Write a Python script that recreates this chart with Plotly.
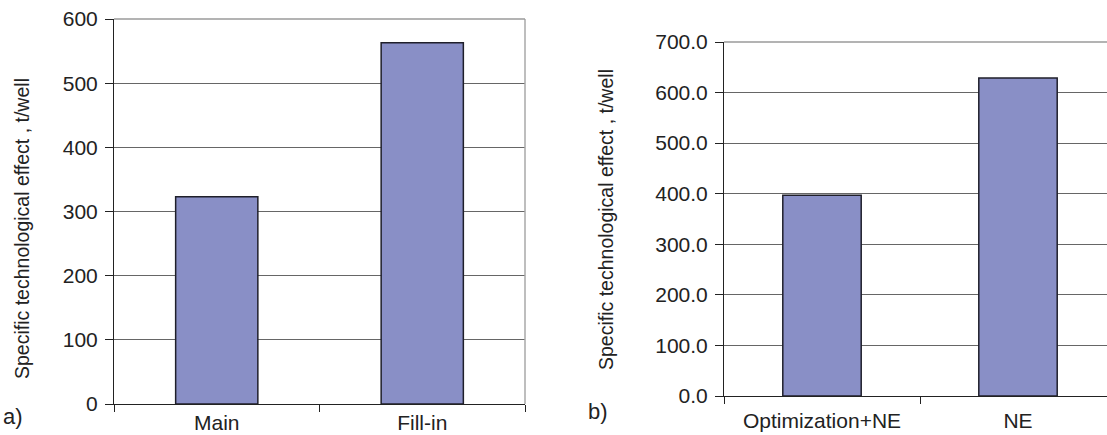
import plotly.graph_objects as go

# Chart a): well category
cats_a = ["Main", "Fill-in"]
vals_a = [323, 563]

# Chart b): treatment type
cats_b = ["Optimization+NE", "NE"]
vals_b = [397, 629]

y_title = "Specific technological effect , t/well"

W, H = 1107, 435
FONT = "Liberation Sans, Arial, sans-serif"
INK = "#222222"
BAR_FILL = "#898fc6"
BAR_EDGE = "#1f1f2a"
GRID = "#666666"


def px(x):
    return x / W


def py(y):
    return 1 - y / H


fig = go.Figure()

fig.add_trace(go.Bar(
    x=cats_a, y=vals_a, xaxis="x", yaxis="y", width=0.4,
    marker=dict(color=BAR_FILL, line=dict(color=BAR_EDGE, width=1.5)),
    showlegend=False,
))
fig.add_trace(go.Bar(
    x=cats_b, y=vals_b, xaxis="x2", yaxis="y2", width=0.4,
    marker=dict(color=BAR_FILL, line=dict(color=BAR_EDGE, width=1.5)),
    showlegend=False,
))

tick_font = dict(family=FONT, size=21, color=INK)
cat_font = dict(family=FONT, size=21, color=INK)

common_x = dict(
    type="category", showline=True, linecolor=INK, linewidth=1,
    ticks="outside", tickson="boundaries", ticklen=7, tickcolor=INK,
    tickfont=cat_font, showgrid=False, automargin=False,
)
common_y = dict(
    dtick=100, showline=True, linecolor=INK, linewidth=1,
    ticks="outside", ticklen=8, tickcolor=INK, tickfont=tick_font,
    showgrid=True, gridcolor=GRID, gridwidth=1, zeroline=False,
    ticklabelstandoff=3, automargin=False,
)

fig.update_layout(
    # left panel: 114..525 px wide, 19..404 px tall
    xaxis=dict(domain=[px(114), px(525)], anchor="y", range=[-0.5, 1.5],
               ticklabelstandoff=0, **common_x),
    yaxis=dict(domain=[py(404), py(19)], anchor="x", range=[0, 600],
               **common_y),
    # right panel: starts at 724 px, categories 196 px apart
    xaxis2=dict(domain=[px(724), 1.0], anchor="y2",
                range=[-0.5, -0.5 + (W - 724) / 196],
                ticklabelstandoff=6, **common_x),
    yaxis2=dict(domain=[py(396), py(42)], anchor="x2", range=[0, 700],
                tickformat=".1f", **common_y),
    width=W, height=H,
    margin=dict(l=0, r=0, t=0, b=0),
    paper_bgcolor="white", plot_bgcolor="white",
    font=dict(family=FONT, color=INK),
)

# frame edges of the plot areas
fig.add_shape(type="line", xref="paper", yref="paper",
              x0=px(525), x1=px(525), y0=py(404), y1=py(19),
              line=dict(color="#a8a8a8", width=1.5))
fig.add_shape(type="line", xref="paper", yref="paper",
              x0=px(114), x1=px(525), y0=py(19), y1=py(19),
              line=dict(color="#9a9a9a", width=1.5))
fig.add_shape(type="line", xref="paper", yref="paper",
              x0=px(724), x1=1.0, y0=py(42), y1=py(42),
              line=dict(color="#9a9a9a", width=1.5))

# y-axis titles and panel letters
for x_pos, y_pos in [(22, 229), (606, 220)]:
    fig.add_annotation(
        text=y_title, x=px(x_pos), y=py(y_pos), xref="paper", yref="paper",
        textangle=-90, showarrow=False, xanchor="center", yanchor="middle",
        font=dict(family=FONT, size=19.5, color=INK),
    )

for label, x_pos, y_pos in [("a)", 13, 416), ("b)", 598, 411)]:
    fig.add_annotation(
        text=label, x=px(x_pos), y=py(y_pos), xref="paper", yref="paper",
        showarrow=False, xanchor="center", yanchor="middle",
        font=dict(family=FONT, size=22, color=INK),
    )

fig.write_html("out.html")
